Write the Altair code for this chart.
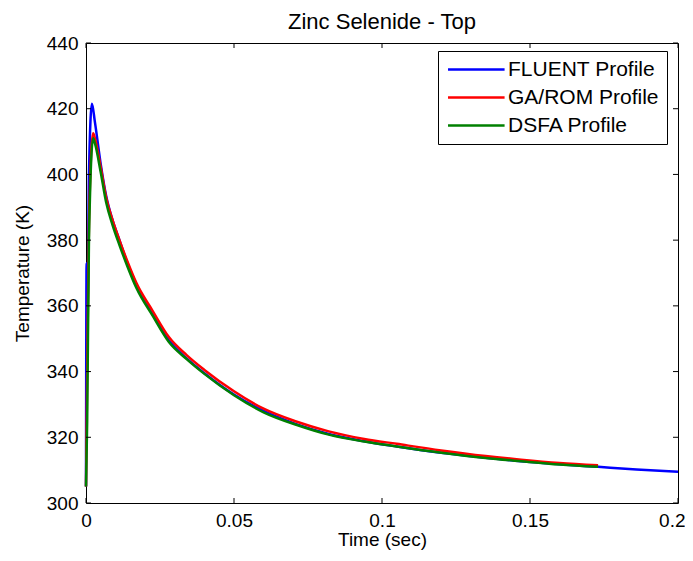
import altair as alt
import pandas as pd

# ---- data ----
series_names = ["FLUENT Profile", "GA/ROM Profile", "DSFA Profile"]
series_colors = ["#0000ff", "#ff0000", "#008000"]

time_fluent = [0, 0.0002, 0.0005, 0.001, 0.002, 0.003, 0.005, 0.0068, 0.009, 0.0113,
               0.014, 0.017, 0.0225, 0.028, 0.034, 0.04, 0.05, 0.06, 0.071, 0.082,
               0.094, 0.105, 0.12, 0.135, 0.147, 0.16, 0.173, 0.186, 0.2]
temp_fluent = [305, 373, 356, 400, 421.5, 416, 403, 393.5, 386, 380,
               373, 366.5, 357.5, 349.5, 344, 339.5, 333, 328, 324, 321,
               318.8, 317.2, 315.3, 313.8, 312.7, 311.8, 311, 310.2, 309.5]

time_model = [0, 0.0004, 0.001, 0.0024, 0.003, 0.005, 0.0068, 0.009, 0.0113, 0.014,
              0.017, 0.0225, 0.028, 0.034, 0.04, 0.05, 0.06, 0.071, 0.082, 0.094,
              0.105, 0.12, 0.135, 0.147, 0.16, 0.173]
temp_garom = [305, 340, 385, 412.5, 411, 402, 393, 386, 380, 373.5,
              367, 358.5, 350.5, 345, 340.5, 334, 328.7, 324.8, 321.8, 319.5,
              318, 316, 314.3, 313.2, 312.2, 311.5]
temp_dsfa = [305, 325, 380, 411, 409.5, 400.5, 391.5, 384.5, 378.5, 372,
             365.5, 357, 349, 343.8, 339.3, 332.8, 327.6, 323.8, 320.8, 318.7,
             317.2, 315.3, 313.7, 312.7, 311.7, 311.0]

x_ticks = [0, 0.05, 0.1, 0.15, 0.2]
y_ticks = [300, 320, 340, 360, 380, 400, 420, 440]

rows = []
for t, v in zip(time_fluent, temp_fluent):
    rows.append({"series": series_names[0], "time": t, "temp": v, "ord": 0})
for t, v in zip(time_model, temp_garom):
    rows.append({"series": series_names[1], "time": t, "temp": v, "ord": 1})
for t, v in zip(time_model, temp_dsfa):
    rows.append({"series": series_names[2], "time": t, "temp": v, "ord": 2})
df = pd.DataFrame(rows)

FONT = "Liberation Sans"
W, H = 592, 460

xscale = alt.Scale(domain=[0, 0.2], nice=False, zero=False)
yscale = alt.Scale(domain=[300, 440], nice=False, zero=False)

x_axis = alt.Axis(values=x_ticks, format="~g", title="Time (sec)",
                  ticks=False, tickSize=0, domain=False, grid=False,
                  labelPadding=8, labelFlush=False, labelOverlap=False,
                  labelAlign=alt.condition("datum.value >= 0.2", alt.value("right"), alt.value("center")),
                  labelOffset=alt.condition("datum.value >= 0.2", alt.value(7), alt.value(0)),
                  labelFont=FONT, labelFontSize=19, labelColor="black",
                  titleFont=FONT, titleFontSize=19, titleFontWeight="normal",
                  titleColor="black", titleY=36, titleBaseline="middle")
y_axis = alt.Axis(values=y_ticks, title="Temperature (K)",
                  ticks=False, tickSize=0, domain=False, grid=False,
                  labelPadding=8, labelFlush=False, labelOverlap=False,
                  labelFont=FONT, labelFontSize=19, labelColor="black",
                  titleFont=FONT, titleFontSize=19, titleFontWeight="normal",
                  titleColor="black", titleX=-64, titleY=230,
                  titleBaseline="middle", titleAlign="center")

lines = alt.Chart(df).mark_line(strokeWidth=2.5, interpolate="monotone").encode(
    x=alt.X("time:Q", scale=xscale, axis=x_axis),
    y=alt.Y("temp:Q", scale=yscale, axis=y_axis),
    color=alt.Color("series:N",
                    scale=alt.Scale(domain=series_names, range=series_colors),
                    sort=series_names,
                    legend=alt.Legend(title=None, orient="none", legendX=352, legendY=8,
                                      strokeColor="black", fillColor="white",
                                      padding=8, cornerRadius=0,
                                      symbolType="M-1.5,0H8.5", symbolSize=128,
                                      symbolStrokeWidth=2.5, labelOffset=41,
                                      labelFont=FONT, labelFontSize=21,
                                      labelColor="black", rowPadding=6)),
    detail="ord:O",
)

tick_df_y = pd.DataFrame({"temp": y_ticks})
tick_df_x = pd.DataFrame({"time": x_ticks})

ytl = alt.Chart(tick_df_y).mark_rule(color="black", strokeWidth=1).encode(
    y=alt.Y("temp:Q", scale=yscale, axis=y_axis), x=alt.value(0), x2=alt.value(5))
ytr = alt.Chart(tick_df_y).mark_rule(color="black", strokeWidth=1).encode(
    y=alt.Y("temp:Q", scale=yscale, axis=y_axis), x=alt.value(W - 5), x2=alt.value(W))
xtb = alt.Chart(tick_df_x).mark_rule(color="black", strokeWidth=1).encode(
    x=alt.X("time:Q", scale=xscale, axis=x_axis), y=alt.value(H), y2=alt.value(H - 5))
xtt = alt.Chart(tick_df_x).mark_rule(color="black", strokeWidth=1).encode(
    x=alt.X("time:Q", scale=xscale, axis=x_axis), y=alt.value(0), y2=alt.value(5))

chart = alt.layer(lines, ytl, ytr, xtb, xtt).properties(
    width=W, height=H,
    autosize=alt.AutoSizeParams(type="none"),
    padding={"left": 78, "top": 35, "right": 7, "bottom": 50},
    title=alt.TitleParams("Zinc Selenide - Top", font=FONT, fontSize=22,
                          fontWeight="normal", color="black", offset=0,
                          anchor="middle"),
    background="white",
).configure_view(stroke="black", strokeWidth=1)

chart.save("out.html", embed_options={"renderer": "svg", "actions": False})
